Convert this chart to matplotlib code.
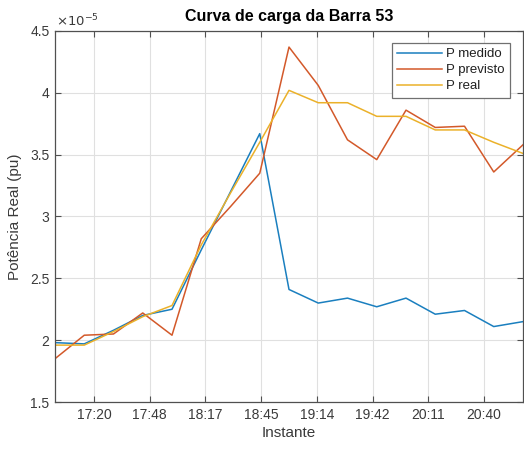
import numpy as np
import matplotlib
matplotlib.use("Agg")
import matplotlib.pyplot as plt
from matplotlib.ticker import FuncFormatter, FixedLocator

plt.rcParams['font.family'] = ['Liberation Sans', 'DejaVu Sans']

# Sample instants: minutes after 17:00, every 15 minutes up to 21:00
minutes = list(range(0, 241, 15))

# Active power in units of 1e-5 pu
p_medido = [1.98, 1.97, 2.08, 2.20, 2.25, 2.73, 3.20, 3.67, 2.41, 2.30,
            2.34, 2.27, 2.34, 2.21, 2.24, 2.11, 2.15]
p_previsto = [1.85, 2.04, 2.05, 2.22, 2.04, 2.82, 3.08, 3.35, 4.37, 4.06,
              3.62, 3.46, 3.86, 3.72, 3.73, 3.36, 3.58]
p_real = [1.96, 1.96, 2.07, 2.19, 2.28, 2.77, 3.19, 3.60, 4.02, 3.92,
          3.92, 3.81, 3.81, 3.70, 3.70, 3.60, 3.51]

scale = 1e-5
series_labels = ['P medido', 'P previsto', 'P real']
series_colors = ['#1a7fbf', '#d3592a', '#ebb12a']

# Time-axis ticks (minutes after 17:00) and their labels
tick_minutes = [20 + k * 200 / 7 for k in range(8)]
tick_labels = ['17:20', '17:48', '18:17', '18:45', '19:14', '19:42', '20:11', '20:40']
y_ticks = [1.5, 2.0, 2.5, 3.0, 3.5, 4.0, 4.5]

fig = plt.figure(figsize=(5.24, 4.51), dpi=100)
ax = fig.add_axes([55 / 524, 49 / 451, 468 / 524, 371 / 451])

axis_color = '#505050'
text_color = '#3a3a3a'
for vals, lab, col in zip([p_medido, p_previsto, p_real], series_labels, series_colors):
    ax.plot(minutes, np.array(vals) * scale, color=col, lw=1.1, label=lab)

ax.set_xlim(minutes[0], minutes[-1])
ax.set_ylim(y_ticks[0] * scale, y_ticks[-1] * scale)
ax.xaxis.set_major_locator(FixedLocator(tick_minutes))
ax.set_xticklabels(tick_labels)
ax.yaxis.set_major_locator(FixedLocator([v * scale for v in y_ticks]))
ax.yaxis.set_major_formatter(FuncFormatter(lambda v, p: f"{v / scale:g}"))

ax.grid(True, color='#e0e0e0', lw=0.8)
ax.set_axisbelow(True)
for s in ax.spines.values():
    s.set_color(axis_color)
    s.set_linewidth(0.9)
ax.tick_params(direction='in', length=4, width=0.8, color=axis_color,
               labelcolor=text_color, labelsize=10, top=True, right=True, pad=4)

ax.set_title('Curva de carga da Barra 53', fontsize=11.5, fontweight='bold',
             color='black', pad=7)
ax.set_xlabel('Instante', fontsize=11, color=text_color, labelpad=3)
ax.set_ylabel('Potência Real (pu)', fontsize=11, color=text_color, labelpad=6)
ax.text(0.003, 1.005, r'$\times10^{-5}$', transform=ax.transAxes, fontsize=9.5,
        color=text_color, ha='left', va='bottom')

leg = ax.legend(loc='upper right', bbox_to_anchor=(0.9724, 0.968), borderaxespad=0,
                fontsize=9.5, fancybox=False, framealpha=1, edgecolor='#707070',
                handlelength=3.4, handletextpad=0.3, labelspacing=0.28,
                borderpad=0.4)
leg.get_frame().set_linewidth(0.9)
for t in leg.get_texts():
    t.set_color('#202020')

fig.savefig('out.png', dpi=100)
